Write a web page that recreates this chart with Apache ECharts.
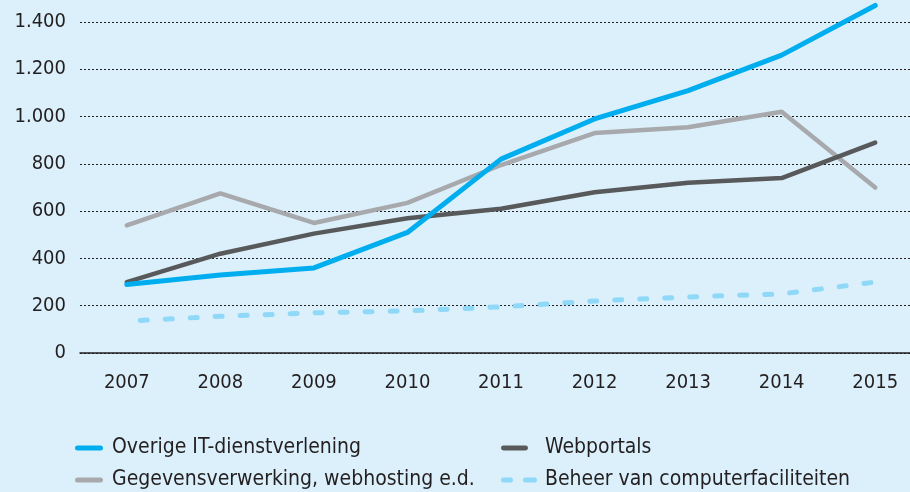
<!DOCTYPE html>
<html>
<head>
<meta charset="utf-8">
<script src="https://cdn.jsdelivr.net/npm/echarts@6/dist/echarts.min.js"></script>
<style>
  html, body { margin: 0; padding: 0; background: #dbf0fb; overflow: hidden; }
  #chart { width: 922px; height: 492px; }
</style>
</head>
<body>
<div id="chart"></div>
<script>
const years = ['2007', '2008', '2009', '2010', '2011', '2012', '2013', '2014', '2015'];
const overigeIT = [290, 330, 360, 510, 820, 990, 1110, 1260, 1470];
const gegevensverwerking = [540, 675, 550, 635, 795, 930, 955, 1020, 700];
const webportals = [300, 420, 505, 570, 610, 680, 720, 740, 890];
const beheer = [135, 155, 170, 178, 195, 220, 237, 250, 300];

const FONT = '"DejaVu Sans Condensed", "DejaVu Sans", sans-serif';
const INK = '#231f20';

const names = {
    overige: 'Overige IT-dienstverlening',
    gegevens: 'Gegevensverwerking, webhosting e.d.',
    web: 'Webportals',
    beheer: 'Beheer van computerfaciliteiten'
};

// rounded bar icon for the solid lines, two rounded dashes for the dotted one
const solidIcon = 'path://M2.5,0H25.5A2.5,2.5,0,0,1,25.5,5H2.5A2.5,2.5,0,0,1,2.5,0Z';
const dashIcon = 'path://M2.5,0H9.5A2.5,2.5,0,0,1,9.5,5H2.5A2.5,2.5,0,0,1,2.5,0Z' +
    'M24.5,0H33.5A2.5,2.5,0,0,1,33.5,5H24.5A2.5,2.5,0,0,1,24.5,0Z';

function legendAt(name, icon, left, top, width, padLeft) {
    return {
        data: [{ name: name, icon: icon }],
        left: left,
        top: top,
        padding: 0,
        itemWidth: width,
        itemHeight: 5,
        selectedMode: false,
        textStyle: { fontFamily: FONT, fontSize: 21, lineHeight: 24, color: INK, padding: [0, 0, 0, padLeft] }
    };
}

const chart = echarts.init(document.getElementById('chart'), null, { renderer: 'canvas' });

chart.setOption({
    backgroundColor: '#dbf0fb',
    animation: false,
    grid: { left: 80, right: 0, top: 0, bottom: 139 },
    legend: [
        legendAt(names.overige, solidIcon, 75, 436, 28, 4),
        legendAt(names.gegevens, solidIcon, 75, 468, 28, 4),
        legendAt(names.web, solidIcon, 501, 436, 27, 12),
        legendAt(names.beheer, dashIcon, 501, 468, 36, 3)
    ],
    xAxis: {
        type: 'category',
        data: years,
        boundaryGap: true,
        axisLine: { lineStyle: { color: INK, width: 1.5 } },
        axisTick: { alignWithLabel: true, length: 9, lineStyle: { color: INK, width: 1.5 } },
        axisLabel: { fontFamily: FONT, fontSize: 20, color: INK, margin: 20 }
    },
    yAxis: {
        type: 'value',
        min: 0,
        max: 1493,
        interval: 200,
        axisLine: { show: false },
        axisTick: { show: false },
        axisLabel: {
            fontFamily: FONT, fontSize: 20, color: INK, margin: 14,
            showMaxLabel: false,
            formatter: v => v % 200 ? '' : String(v).replace(/\B(?=(\d{3})+(?!\d))/g, '.')
        },
        splitLine: {
            showMaxLine: false,
            lineStyle: { color: INK, width: 1, type: [2, 2] }
        }
    },
    series: [
        {
            name: names.beheer, type: 'line', data: beheer, symbol: 'none',
            lineStyle: { color: '#8fd8f8', width: 5, type: [7, 18], dashOffset: 11.5, cap: 'round' },
            itemStyle: { color: '#8fd8f8' }
        },
        {
            name: names.gegevens, type: 'line', data: gegevensverwerking, symbol: 'none',
            lineStyle: { color: '#a7a9ac', width: 4.5, cap: 'round' },
            itemStyle: { color: '#a7a9ac' }
        },
        {
            name: names.web, type: 'line', data: webportals, symbol: 'none',
            lineStyle: { color: '#58595b', width: 4.5, cap: 'round' },
            itemStyle: { color: '#58595b' }
        },
        {
            name: names.overige, type: 'line', data: overigeIT, symbol: 'none',
            lineStyle: { color: '#00aeef', width: 5, cap: 'round' },
            itemStyle: { color: '#00aeef' }
        }
    ]
});
</script>
</body>
</html>
